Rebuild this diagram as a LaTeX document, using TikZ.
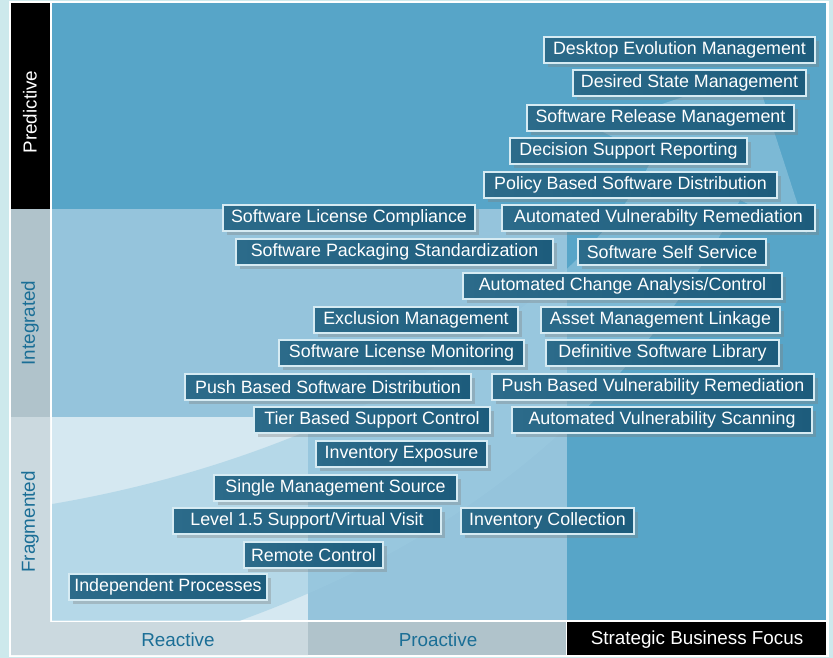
\documentclass[tikz,border=0pt]{standalone}
\usepackage{fontspec}
\setmainfont{Liberation Sans}
\usepackage{tikz}
\usetikzlibrary{shadows}

\definecolor{bgcyan}{HTML}{CDE9EC}
\definecolor{darkzone}{HTML}{57A5C8}
\definecolor{midzone}{HTML}{95C4DC}
\definecolor{lightzone}{HTML}{D5E8F1}
\definecolor{cellgray}{HTML}{B0C3CB}
\definecolor{cellpale}{HTML}{CBD9DF}
\definecolor{labelblue}{HTML}{1A6E96}
\definecolor{capfill}{HTML}{1D5C7C}
\definecolor{capfillL}{HTML}{2C6B8A}
\definecolor{capline}{HTML}{D6EBF3}
\definecolor{swoosh}{HTML}{9CCBE1}

\begin{document}
\begin{tikzpicture}[
    x=0.6pt, y=-0.6pt,
    font=\fontsize{10.7}{12}\selectfont,
    capbox/.style={rectangle, draw=capline, line width=1.1pt, left color=capfillL, right color=capfill, text=white, minimum height=15.6pt, inner sep=0pt, drop shadow={shadow xshift=2.2pt, shadow yshift=-2.4pt, opacity=0.35}},
    wd/.style={minimum width=#1*0.6pt},
    axis/.style={font=\fontsize{11.3}{13}\selectfont, text=labelblue},
]

% Background and frame
\useasboundingbox (0,0) rectangle (833,658);
\fill[bgcyan] (0,0) rectangle (833,658);
\fill[white] (9,1) rectangle (829,657);

% Axis cells
\fill[black] (11,3) rectangle (50,209);
\fill[cellgray] (11,209) rectangle (50,417);
\fill[cellpale] (11,417) -- (50,417) -- (50,622) -- (308,622) -- (308,655) -- (11,655) -- cycle;
\fill[cellgray] (308,622) rectangle (566,655);
\fill[black] (567,622) rectangle (826,655);

% Maturity zones
\fill[darkzone] (52,3) rectangle (826,620);
\fill[midzone] (52,209) rectangle (567,620);
\fill[lightzone] (52,417) rectangle (308,620);

% Swoosh arrow
\begin{scope}
\clip (52,3) rectangle (826,620);
\fill[swoosh, opacity=0.55] (653,157) -- (593,127) -- (755,73) -- (807,233) -- (740,200)
    .. controls (670,330) and (540,510) .. (247,618) -- (180,645) -- (0,650) -- (0,515) -- (40,506)
    .. controls (360,455) and (590,290) .. (653,157) -- cycle;
\end{scope}

% Axis labels
\node[rotate=90, axis, text=white] (pred) at (30,112) {Predictive};
\node[rotate=90, axis] (integ) at (30,323) {Integrated};
\node[rotate=90, axis] (frag) at (30,522) {Fragmented};
\node[axis] (react) at (178,640) {Reactive};
\node[axis] (proact) at (438,640) {Proactive};
\node[axis, text=white] (strat) at (697,640) {Strategic Business Focus};

% Predictive
\node[capbox, wd=271] (dem) at (679.5,50) {Desktop Evolution Management};
\node[capbox, wd=233] (dsm) at (689.5,83) {Desired State Management};
\node[capbox, wd=267] (srm) at (660.5,118) {Software Release Management};
\node[capbox, wd=237] (dsr) at (628.5,151) {Decision Support Reporting};
\node[capbox, wd=293] (pbsd) at (630.5,185) {Policy Based Software Distribution};

% Integrated
\node[capbox, wd=252] (slc) at (349,218) {Software License Compliance};
\node[capbox, wd=313] (avr) at (658.5,218) {Automated Vulnerabilty Remediation};
\node[capbox, wd=317] (sps) at (394.5,252) {Software Packaging Standardization};
\node[capbox, wd=188] (sss) at (672,252) {Software Self Service};
\node[capbox, wd=319] (aca) at (622.5,286) {Automated Change Analysis/Control};
\node[capbox, wd=204] (exm) at (416,320) {Exclusion Management};
\node[capbox, wd=239] (aml) at (660.5,320) {Asset Management Linkage};
\node[capbox, wd=245] (slm) at (401.5,353) {Software License Monitoring};
\node[capbox, wd=233] (dsl) at (662.5,353) {Definitive Software Library};
\node[capbox, wd=286] (psd) at (328,387) {Push Based Software Distribution};
\node[capbox, wd=322] (pvr) at (653,387) {Push Based Vulnerability Remediation};

% Fragmented
\node[capbox, wd=236] (tsc) at (372,420) {Tier Based Support Control};
\node[capbox, wd=300] (avs) at (662,420) {Automated Vulnerability Scanning};
\node[capbox, wd=171] (ive) at (401.5,454) {Inventory Exposure};
\node[capbox, wd=243] (sms) at (335.5,488) {Single Management Source};
\node[capbox, wd=268] (lvl) at (307,521) {Level 1.5 Support/Virtual Visit};
\node[capbox, wd=173] (ivc) at (547.5,521) {Inventory Collection};
\node[capbox, wd=139] (rmc) at (313.5,555) {Remote Control};
\node[capbox, wd=198] (ipr) at (168,587) {Independent Processes};

\end{tikzpicture}
\end{document}
